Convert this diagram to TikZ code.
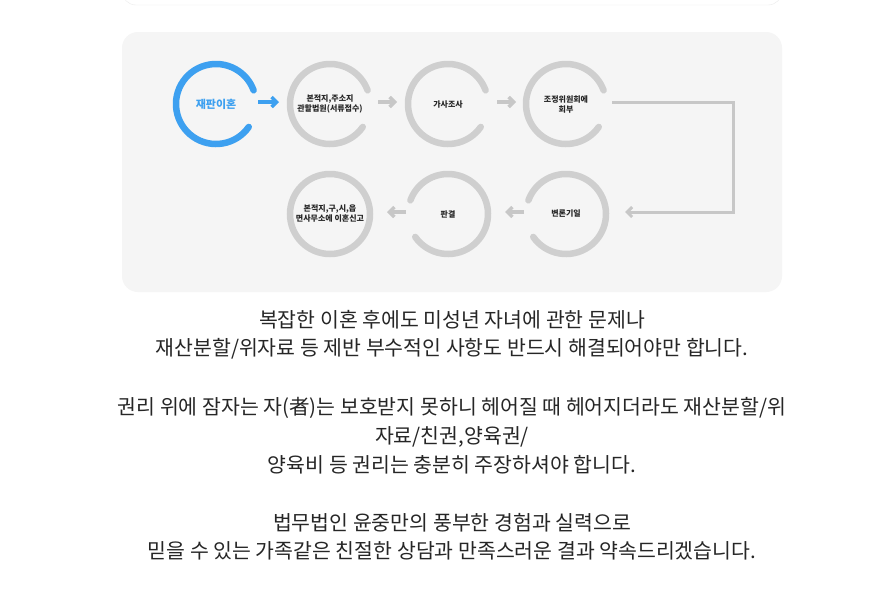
\documentclass[tikz,border=0pt]{standalone}
\usepackage{fontspec}
\setmainfont{Noto Sans CJK KR}
\usetikzlibrary{arrows.meta}
\definecolor{myblue}{HTML}{3DA0F0}
\begin{document}
\begin{tikzpicture}[x=1pt,y=-1pt,
  ring/.style={line width=6.5pt,line cap=round,draw=black!19},
  bring/.style={line width=6.5pt,line cap=round,draw=myblue},
  arr/.style={line width=3.5pt,draw=black!22,-{Straight Barb[length=5pt,width=10pt]}},
  lbl/.style={font=\fontsize{8}{10}\selectfont\bfseries,align=center,text=black!85},
  body/.style={font=\fontsize{20.5}{24}\selectfont,text=black!85}]
\useasboundingbox[fill=white] (0,0) rectangle (894,603);
\draw[black!8,fill=white,rounded corners=14] (122,-30) rectangle (782,5);
\fill[black!4,rounded corners=16] (122,32) rectangle (782,292);
\draw[bring] (216,104) ++(35:40) arc[start angle=35,end angle=340,radius=40];
\foreach \x in {330,448,566}{\draw[ring] (\x,104) ++(35:40) arc[start angle=35,end angle=340,radius=40];}
\draw[ring] (330,214) circle[radius=40];
\foreach \x in {448,566}{\draw[ring] (\x,214) ++(145:40) arc[start angle=145,end angle=-160,radius=40];}
\node[font=\fontsize{11}{13}\selectfont\bfseries,text=myblue] (a) at (216,104) {재판이혼};
\node[lbl] (b) at (330,104) {본적지,주소지\\관할법원(서류접수)};
\node[lbl] (c) at (448,104) {가사조사};
\node[lbl] (d) at (566,104) {조정위원회에\\회부};
\node[lbl] (e) at (566,214) {변론기일};
\node[lbl] (f) at (448,214) {판결};
\node[lbl] (g) at (330,214) {본적지,구,시,읍\\면사무소에 이혼신고};
\coordinate (a1) at (258,102); \coordinate (a2) at (279,102);
\draw[arr,draw=myblue] (a1) -- (a2);
\coordinate (b1) at (378,102); \coordinate (b2) at (397,102);
\draw[arr] (b1) -- (b2);
\coordinate (c1) at (497,102); \coordinate (c2) at (516,102);
\draw[arr] (c1) -- (c2);
\coordinate (d1) at (612,102); \coordinate (d2) at (625,212);
\draw[arr,line width=3pt] (d1) -- (733,102) -- (733,212) -- (d2);
\coordinate (e1) at (524,212); \coordinate (e2) at (505,212);
\draw[arr] (e1) -- (e2);
\coordinate (f1) at (406,212); \coordinate (f2) at (387,212);
\draw[arr] (f1) -- (f2);
\node[body] (t1) at (452,320) {복잡한 이혼 후에도 미성년 자녀에 관한 문제나};
\node[body] (t2) at (452,349) {재산분할/위자료 등 제반 부수적인 사항도 반드시 해결되어야만 합니다.};
\node[body] (t3) at (452,408) {권리 위에 잠자는 자(者)는 보호받지 못하니 헤어질 때 헤어지더라도 재산분할/위};
\node[body] (t4) at (452,437) {자료/친권,양육권/};
\node[body] (t5) at (452,465) {양육비 등 권리는 충분히 주장하셔야 합니다.};
\node[body] (t6) at (452,523) {법무법인 윤중만의 풍부한 경험과 실력으로};
\node[body] (t7) at (452,551) {믿을 수 있는 가족같은 친절한 상담과 만족스러운 결과 약속드리겠습니다.};
\end{tikzpicture}
\end{document}
